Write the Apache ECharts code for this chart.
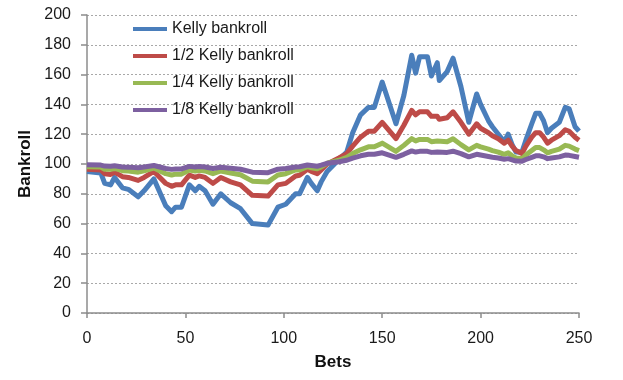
<!DOCTYPE html>
<html>
<head>
<meta charset="utf-8">
<script src="https://cdn.jsdelivr.net/npm/echarts@6/dist/echarts.min.js"></script>
<style>
html,body{margin:0;padding:0;background:#fff;}
#chart{width:623px;height:380px;}
</style>
</head>
<body>
<div id="chart"></div>
<script>
// Turning-point bet numbers (shared by all series)
var bets = [0,7,9,12,14,18,21,26,29,34,40,43,45,48,52,55,57,60,64,68,73,78,84,92,93,97,101,106,108,112,114,117,119,122,125,128,132,135,139,143,146,150,157,161,165,167,169,173,175,178,179,183,186,190,194,198,200,204,206,209,212,214,216,218,221,223,226,228,230,232,234,236,240,243,245,248,250];

var kelly = [95,94,87,86,91,84,83,78,82,90,72,68,71,71,86,82,85,82,73,80,74,70,60,59,59,71,73,80,80,91,87,82,88,95,99,103,108,121,133,138,138,155,127,146,173,161,172,172,159,168,156,162,171,152,128,147,140,129,125,120,115,120,113,108,108,116,127,134,134,129,121,124,128,138,137,125,122];

var halfKelly = [96.5,96,93.5,93,94.5,91.5,91,89,91,95,87,85,86,86,92.5,91,92,91,87,91,88,86,79,78.5,78.5,86,87,92,92.5,96.5,95,93.5,96,100,102,104,107,112,118,122,122,128,117,126,136,133,135,135,132,132,130,131,135,128,120,127,124,121,119,117,114,116,112,109,107,112,118,121,121,118,114,116,119,123,122,118,116];

var quarterKelly = [98.2,98,96.5,96.4,97,95.5,95.3,94.5,95.5,97.3,93.5,92.6,93.2,93.2,96,95.3,95.8,95.3,93.5,95.3,94,92.8,88.5,88,88,92.6,93.5,96,96,98.2,97.5,96.8,98,100.5,101.5,102.5,104.5,107,109.5,111.5,111.5,114,108.5,112.5,117,115.5,116.5,116.5,115,115.5,114.5,115,117,113,109.5,112.5,111.5,110,109,108,106.5,107.5,105.5,104,103.5,106,109,111,111,109.5,107.5,108.5,110,112.5,112,110,109];

var eighthKelly = [99.5,99.3,98.6,98.5,98.8,98,97.9,97.5,98,99,97,96.4,96.7,96.7,98.4,98,98.3,98,97,97.8,97.2,96.5,94.5,94.2,94.2,96.5,97,98,98.2,99.3,99,98.5,99.2,100.5,101,101.5,102.5,104,105.5,106.5,106.5,107.5,104.5,106.5,108.8,108,108.5,108.5,107.8,108,107.5,107.8,108.6,107,104.8,106.5,106,105,104.5,104,103.2,103.6,102.8,102,101.8,103,104.5,105.5,105.5,104.8,103.6,104,104.8,106,105.8,105,104.5];

var seriesNames = ['Kelly bankroll','1/2 Kelly bankroll','1/4 Kelly bankroll','1/8 Kelly bankroll'];
var seriesColors = ['#4A7EBB','#BE4B48','#98B954','#7D60A0'];
var xTicks = [0,50,100,150,200,250];
var yTicks = [0,20,40,60,80,100,120,140,160,180,200];

function pairs(vals){ return bets.map(function(b,i){ return [b, vals[i]]; }); }
var allVals = [kelly, halfKelly, quarterKelly, eighthKelly];

var FONT = '"Liberation Sans", Arial, sans-serif';
var chart = echarts.init(document.getElementById('chart'), null, {renderer:'canvas'});
chart.setOption({
  animation:false,
  backgroundColor:'#fff',
  textStyle:{fontFamily:FONT},
  grid:{left:87,right:44,top:15,bottom:67,containLabel:false},
  legend:{
    orient:'vertical', left:133, top:21, padding:0,
    itemWidth:34, itemHeight:4, itemGap:11,
    icon:'rect',
    textStyle:{fontFamily:FONT,fontSize:16,color:'#1a1a1a',lineHeight:16},
    data:seriesNames
  },
  xAxis:{
    type:'value', min:xTicks[0], max:xTicks[xTicks.length-1], interval:50,
    name:'Bets', nameLocation:'middle', nameGap:41,
    nameTextStyle:{fontFamily:FONT,fontSize:17,fontWeight:'bold',color:'#111'},
    axisLine:{show:true,lineStyle:{color:'#8c8c8c',width:1.5}},
    axisTick:{show:true,length:5,lineStyle:{color:'#8c8c8c',width:1.5}},
    axisLabel:{fontFamily:FONT,fontSize:16,color:'#1a1a1a',margin:18},
    splitLine:{show:false}
  },
  yAxis:{
    type:'value', min:yTicks[0], max:yTicks[yTicks.length-1], interval:20,
    name:'Bankroll', nameLocation:'middle', nameGap:52, nameRotate:90,
    nameTextStyle:{fontFamily:FONT,fontSize:17,fontWeight:'bold',color:'#111'},
    axisLine:{show:true,lineStyle:{color:'#8c8c8c',width:1.5}},
    axisTick:{show:true,length:6,lineStyle:{color:'#8c8c8c',width:1.5}},
    axisLabel:{fontFamily:FONT,fontSize:16,color:'#1a1a1a',margin:16},
    splitLine:{show:true,lineStyle:{color:'#a8a8a8',type:[2,2],width:1}}
  },
  series: seriesNames.map(function(n,i){
    return {
      name:n, type:'line', data:pairs(allVals[i]),
      showSymbol:false, symbol:'none',
      lineStyle:{color:seriesColors[i],width:5,join:'round'},
      itemStyle:{color:seriesColors[i]},
      emphasis:{disabled:true}
    };
  })
});
</script>
</body>
</html>
